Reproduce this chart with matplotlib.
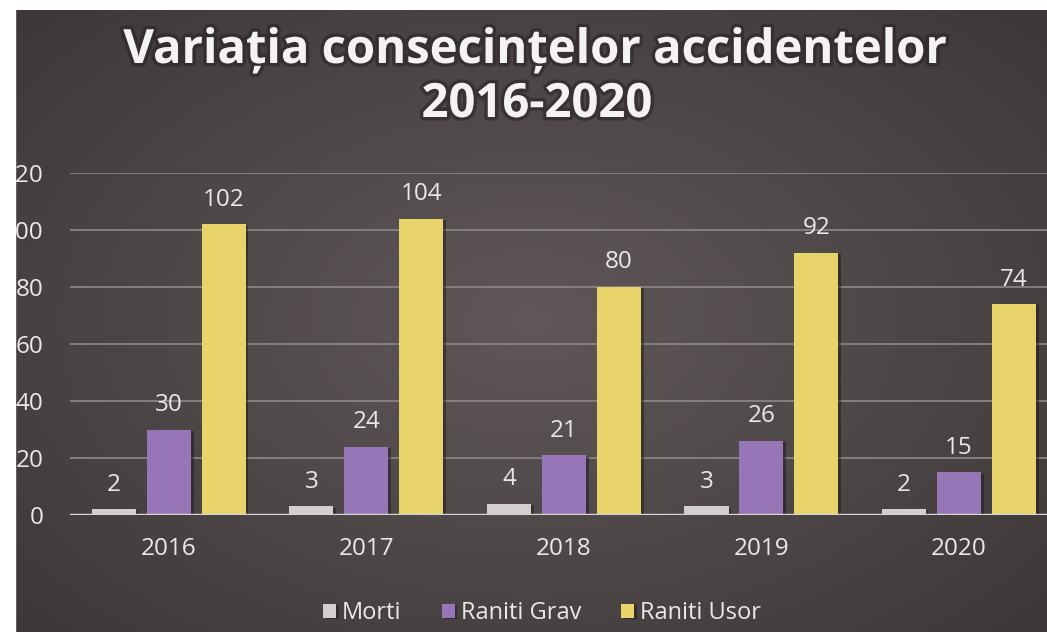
import numpy as np
import matplotlib
matplotlib.use('Agg')
import matplotlib.pyplot as plt
import matplotlib.patheffects as pe
from matplotlib.patches import Rectangle

plt.rcParams['font.family'] = ['Open Sans', 'DejaVu Sans']

# date
ani = ['2016', '2017', '2018', '2019', '2020']
morti = [2, 3, 4, 3, 2]
raniti_grav = [30, 24, 21, 26, 15]
raniti_usor = [102, 104, 80, 92, 74]
serii = ['Morti', 'Raniti Grav', 'Raniti Usor']
culori = ['#d3cfce', '#9676b6', '#e9d46c']
txt_col = '#ece8e8'

W, H = 1047, 632
fig = plt.figure(figsize=(W / 100, H / 100), dpi=100, facecolor='white')

# fundal cu gradient radial
bg = fig.add_axes([15 / W, 0, 1 - 15 / W, 1 - 10 / H])
yy, xx = np.mgrid[0:1:300j, 0:1:500j]
r = np.sqrt(((xx - 0.5) / 0.75) ** 2 + ((yy - 0.5) / 0.8) ** 2)
r = np.clip(r, 0, 1)
c0 = np.array([96, 88, 88]) / 255
c1 = np.array([58, 52, 53]) / 255
img = c0[None, None, :] * (1 - r[..., None]) + c1[None, None, :] * r[..., None]
bg.imshow(img, aspect='auto', extent=[0, 1, 0, 1])
bg.axis('off')

ax = fig.add_axes([70 / W, 117 / H, 987.75 / W, 342 / H])
ax.set_facecolor('none')
x = np.arange(len(ani))
w = 0.223
d = 0.278
shadow = [pe.SimplePatchShadow(offset=(2, -1), shadow_rgbFace='#1e1a1a', alpha=0.5), pe.Normal()]
for i, (vals, col) in enumerate(zip([morti, raniti_grav, raniti_usor], culori)):
    b = ax.bar(x + (i - 1) * d, vals, w, color=col, label=serii[i], zorder=3)
    for p in b:
        p.set_path_effects(shadow)
    ax.bar_label(b, padding=9, color=txt_col, fontsize=17.5)

ax.set_xlim(-0.5, 4.5)
ax.set_ylim(0, 120)
ax.set_yticks(range(0, 121, 20))
ax.set_xticks(x)
ax.set_xticklabels(ani)
ax.tick_params(axis='both', length=0, labelsize=17.5, labelcolor=txt_col)
ax.tick_params(axis='y', pad=19)
ax.tick_params(axis='x', pad=16)
ax.yaxis.grid(True, color='#8a8383', lw=1.3)
ax.set_axisbelow(True)
for s in ax.spines.values():
    s.set_visible(False)
ax.axhline(0, color='#d8d3d3', lw=2.5, zorder=4)

leg = fig.legend(loc='center', bbox_to_anchor=(542 / W, 1 - 613 / H), ncol=3,
                 frameon=False, fontsize=17, handlelength=0.55, handleheight=0.55,
                 handletextpad=0.25, columnspacing=1.7)
for t in leg.get_texts():
    t.set_color(txt_col)

glow = [pe.withStroke(linewidth=5, foreground='#2a2424', alpha=0.6)]
fig.text(535 / W, 1 - 63 / H, 'Variația consecințelor accidentelor', ha='center',
         va='baseline', fontsize=34, fontweight='bold', color='#f4f2f2', path_effects=glow)
fig.text(537 / W, 1 - 117 / H, '2016-2020', ha='center', va='baseline',
         fontsize=34, fontweight='bold', color='#f4f2f2', path_effects=glow)

# marginea alba din stanga taie eticheta 120 / 100
fig.patches.append(Rectangle((0, 0), 15 / W, 1, transform=fig.transFigure,
                             color='white', zorder=10))

fig.savefig('out.png', dpi=100, facecolor='white')
